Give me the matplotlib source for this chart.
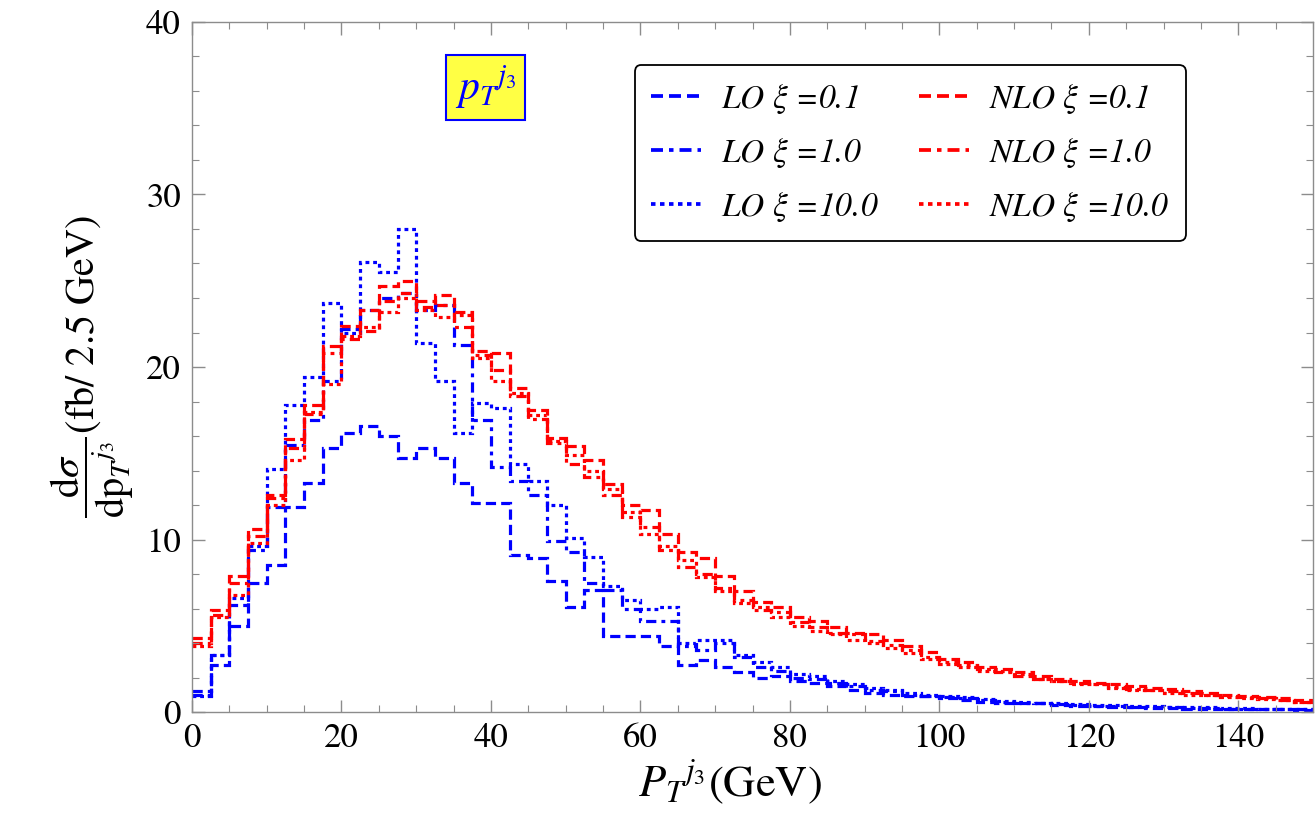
import matplotlib
matplotlib.use('Agg')
import matplotlib.pyplot as plt
from matplotlib.ticker import MultipleLocator
from matplotlib.lines import Line2D
import numpy as np

# --- data: bin contents, 2.5 GeV bins from 0 to 150 GeV ---
bin_width = 2.5
pt_max = 150.0

lo_01 = [1.0, 2.7, 5.0, 7.5, 8.5, 11.9, 13.3, 15.3, 16.2, 16.6,
         16.0, 14.7, 15.3, 14.7, 13.3, 12.1, 12.1, 9.1, 8.9, 7.6,
         6.1, 7.1, 4.4, 4.4, 4.4, 3.8, 2.7, 3.0, 2.6, 2.3,
         2.0, 2.1, 1.8, 1.7, 1.5, 1.3, 1.1, 1.0, 0.9, 0.9,
         0.8, 0.7, 0.6, 0.55, 0.5, 0.5, 0.4, 0.35, 0.35, 0.3,
         0.3, 0.25, 0.25, 0.2, 0.2, 0.2, 0.15, 0.15, 0.15, 0.1]
lo_1 = [1.2, 3.3, 6.2, 9.4, 11.9, 15.5, 16.9, 19.2, 22.2, 23.3,
        24.0, 24.3, 23.3, 23.6, 21.3, 16.9, 14.2, 13.4, 12.6, 9.9,
        9.3, 7.5, 7.1, 6.0, 5.3, 5.3, 3.8, 3.6, 4.0, 3.2,
        2.6, 2.4, 2.0, 1.9, 1.7, 1.5, 1.3, 1.2, 1.0, 0.9,
        0.85, 0.8, 0.7, 0.6, 0.55, 0.5, 0.45, 0.4, 0.35, 0.35,
        0.3, 0.3, 0.3, 0.25, 0.25, 0.2, 0.2, 0.2, 0.2, 0.15]
lo_10 = [0.9, 3.3, 6.6, 9.6, 14.1, 17.8, 19.4, 23.7, 22.0, 26.1,
         25.5, 28.0, 21.4, 19.2, 16.2, 17.9, 17.6, 14.4, 13.4, 12.0,
         10.1, 9.0, 7.3, 6.5, 6.0, 6.1, 4.0, 4.2, 4.2, 3.3,
         2.9, 2.6, 2.2, 2.1, 1.8, 1.6, 1.4, 1.3, 1.1, 1.0,
         0.9, 0.85, 0.75, 0.65, 0.6, 0.55, 0.5, 0.45, 0.4, 0.4,
         0.35, 0.35, 0.3, 0.3, 0.3, 0.25, 0.25, 0.2, 0.2, 0.2]
nlo_01 = [4.3, 5.9, 7.9, 10.6, 12.6, 15.8, 17.8, 21.2, 22.4, 23.3,
          24.7, 25.0, 23.5, 24.2, 23.2, 20.9, 20.8, 18.8, 17.5, 15.9,
          15.4, 14.6, 13.2, 12.0, 11.7, 10.3, 9.3, 8.9, 7.9, 7.0,
          6.4, 6.1, 5.5, 5.3, 4.9, 4.6, 4.5, 4.2, 3.8, 3.5,
          3.1, 2.9, 2.6, 2.5, 2.3, 2.1, 1.9, 1.8, 1.7, 1.6,
          1.5, 1.4, 1.35, 1.2, 1.1, 1.0, 0.95, 0.85, 0.8, 0.7]
nlo_1 = [4.0, 5.6, 7.5, 10.2, 12.4, 15.3, 17.3, 20.8, 21.6, 22.1,
         23.8, 24.3, 23.8, 23.6, 22.3, 20.7, 19.8, 18.3, 17.0, 15.6,
         14.4, 13.6, 12.6, 11.3, 10.7, 9.4, 8.4, 8.0, 7.2, 6.5,
         5.9, 5.8, 5.2, 4.9, 4.6, 4.5, 4.1, 3.9, 3.6, 3.2,
         2.9, 2.7, 2.5, 2.3, 2.1, 1.9, 1.8, 1.7, 1.6, 1.45,
         1.35, 1.3, 1.2, 1.1, 1.0, 0.9, 0.85, 0.8, 0.7, 0.6]
nlo_10 = [3.8, 5.5, 6.8, 9.8, 12.0, 14.6, 17.4, 19.0, 21.8, 22.3,
          23.2, 24.0, 23.3, 22.9, 23.0, 20.5, 19.2, 18.5, 17.2, 15.7,
          14.9, 14.0, 12.9, 11.6, 10.3, 9.6, 8.8, 7.8, 7.0, 6.3,
          6.1, 5.5, 5.0, 4.7, 4.5, 4.2, 4.0, 3.7, 3.4, 3.1,
          2.8, 2.6, 2.4, 2.4, 2.2, 1.9, 1.8, 1.6, 1.6, 1.4,
          1.3, 1.3, 1.1, 1.0, 1.0, 0.85, 0.8, 0.75, 0.7, 0.6]

labels_lo = [r'LO $\xi$ =0.1', r'LO $\xi$ =1.0', r'LO $\xi$ =10.0']
labels_nlo = [r'NLO $\xi$ =0.1', r'NLO $\xi$ =1.0', r'NLO $\xi$ =10.0']

# --- style ---
BLUE = '#0000FF'
RED = '#FF0000'
FRAME = '#8c8c8c'
styles = [(0, (3.2, 1.6)), (0, (3.2, 1.6, 1.2, 1.6)), (0, (1.2, 1.2))]
LW = 2.3

plt.rcParams['font.family'] = 'STIXGeneral'
plt.rcParams['mathtext.fontset'] = 'stix'

fig = plt.figure(figsize=(13.15, 8.36), dpi=100)
ax = fig.add_axes([0.146, 0.1483, 0.8525, 0.8254])

edges = np.arange(0, pt_max + bin_width / 2, bin_width)

for vals, ls in zip([lo_01, lo_1, lo_10], styles):
    ax.stairs(vals, edges, baseline=None, color=BLUE, lw=LW, linestyle=ls)
for vals, ls in zip([nlo_01, nlo_1, nlo_10], styles):
    ax.stairs(vals, edges, baseline=None, color=RED, lw=LW, linestyle=ls)

ax.set_xlim(0, 150)
ax.set_ylim(0, 40)
ax.xaxis.set_major_locator(MultipleLocator(20))
ax.xaxis.set_minor_locator(MultipleLocator(5))
ax.yaxis.set_major_locator(MultipleLocator(10))
ax.yaxis.set_minor_locator(MultipleLocator(2))
ax.tick_params(which='both', direction='in', top=True, right=True,
               color=FRAME, labelsize=25, pad=8)
ax.tick_params(which='major', length=9, width=1)
ax.tick_params(which='minor', length=5, width=0.8)
for sp in ax.spines.values():
    sp.set_color(FRAME)
    sp.set_linewidth(1)

ax.set_xlabel(r'${P_T}^{j_3}$(GeV)', fontsize=32)
ax.xaxis.set_label_coords(0.48, -0.066)
ax.set_ylabel(r'$\dfrac{\mathrm{d}\sigma}{\mathrm{d}{\mathrm{p}_T}^{j_3}}$(fb/ 2.5 GeV)',
              fontsize=29)
ax.yaxis.set_label_coords(-0.05, 0.5)

# observable tag
ax.text(0.262, 0.905, r'${p_T}^{j_3}$', transform=ax.transAxes, fontsize=30,
        color=BLUE, ha='center', va='center',
        bbox=dict(boxstyle='square,pad=0.2', facecolor='#FFFF44',
                  edgecolor=BLUE, linewidth=1.5))

# legend
handles = []
for ls, lab in zip(styles, labels_lo):
    handles.append(Line2D([], [], color=BLUE, lw=LW + 0.4, linestyle=ls, label=lab))
for ls, lab in zip(styles, labels_nlo):
    handles.append(Line2D([], [], color=RED, lw=LW + 0.4, linestyle=ls, label=lab))
leg = ax.legend(handles=handles, ncol=2, loc='upper left',
                bbox_to_anchor=(0.395, 0.937),
                prop={'style': 'italic', 'size': 24},
                frameon=True, fancybox=True, edgecolor='black',
                handlelength=1.5, handletextpad=0.6, columnspacing=1.2,
                labelspacing=0.6, borderpad=0.5, borderaxespad=0)
leg.get_frame().set_linewidth(1.3)
leg.get_frame().set_alpha(1)

fig.savefig('out.png', dpi=100)
